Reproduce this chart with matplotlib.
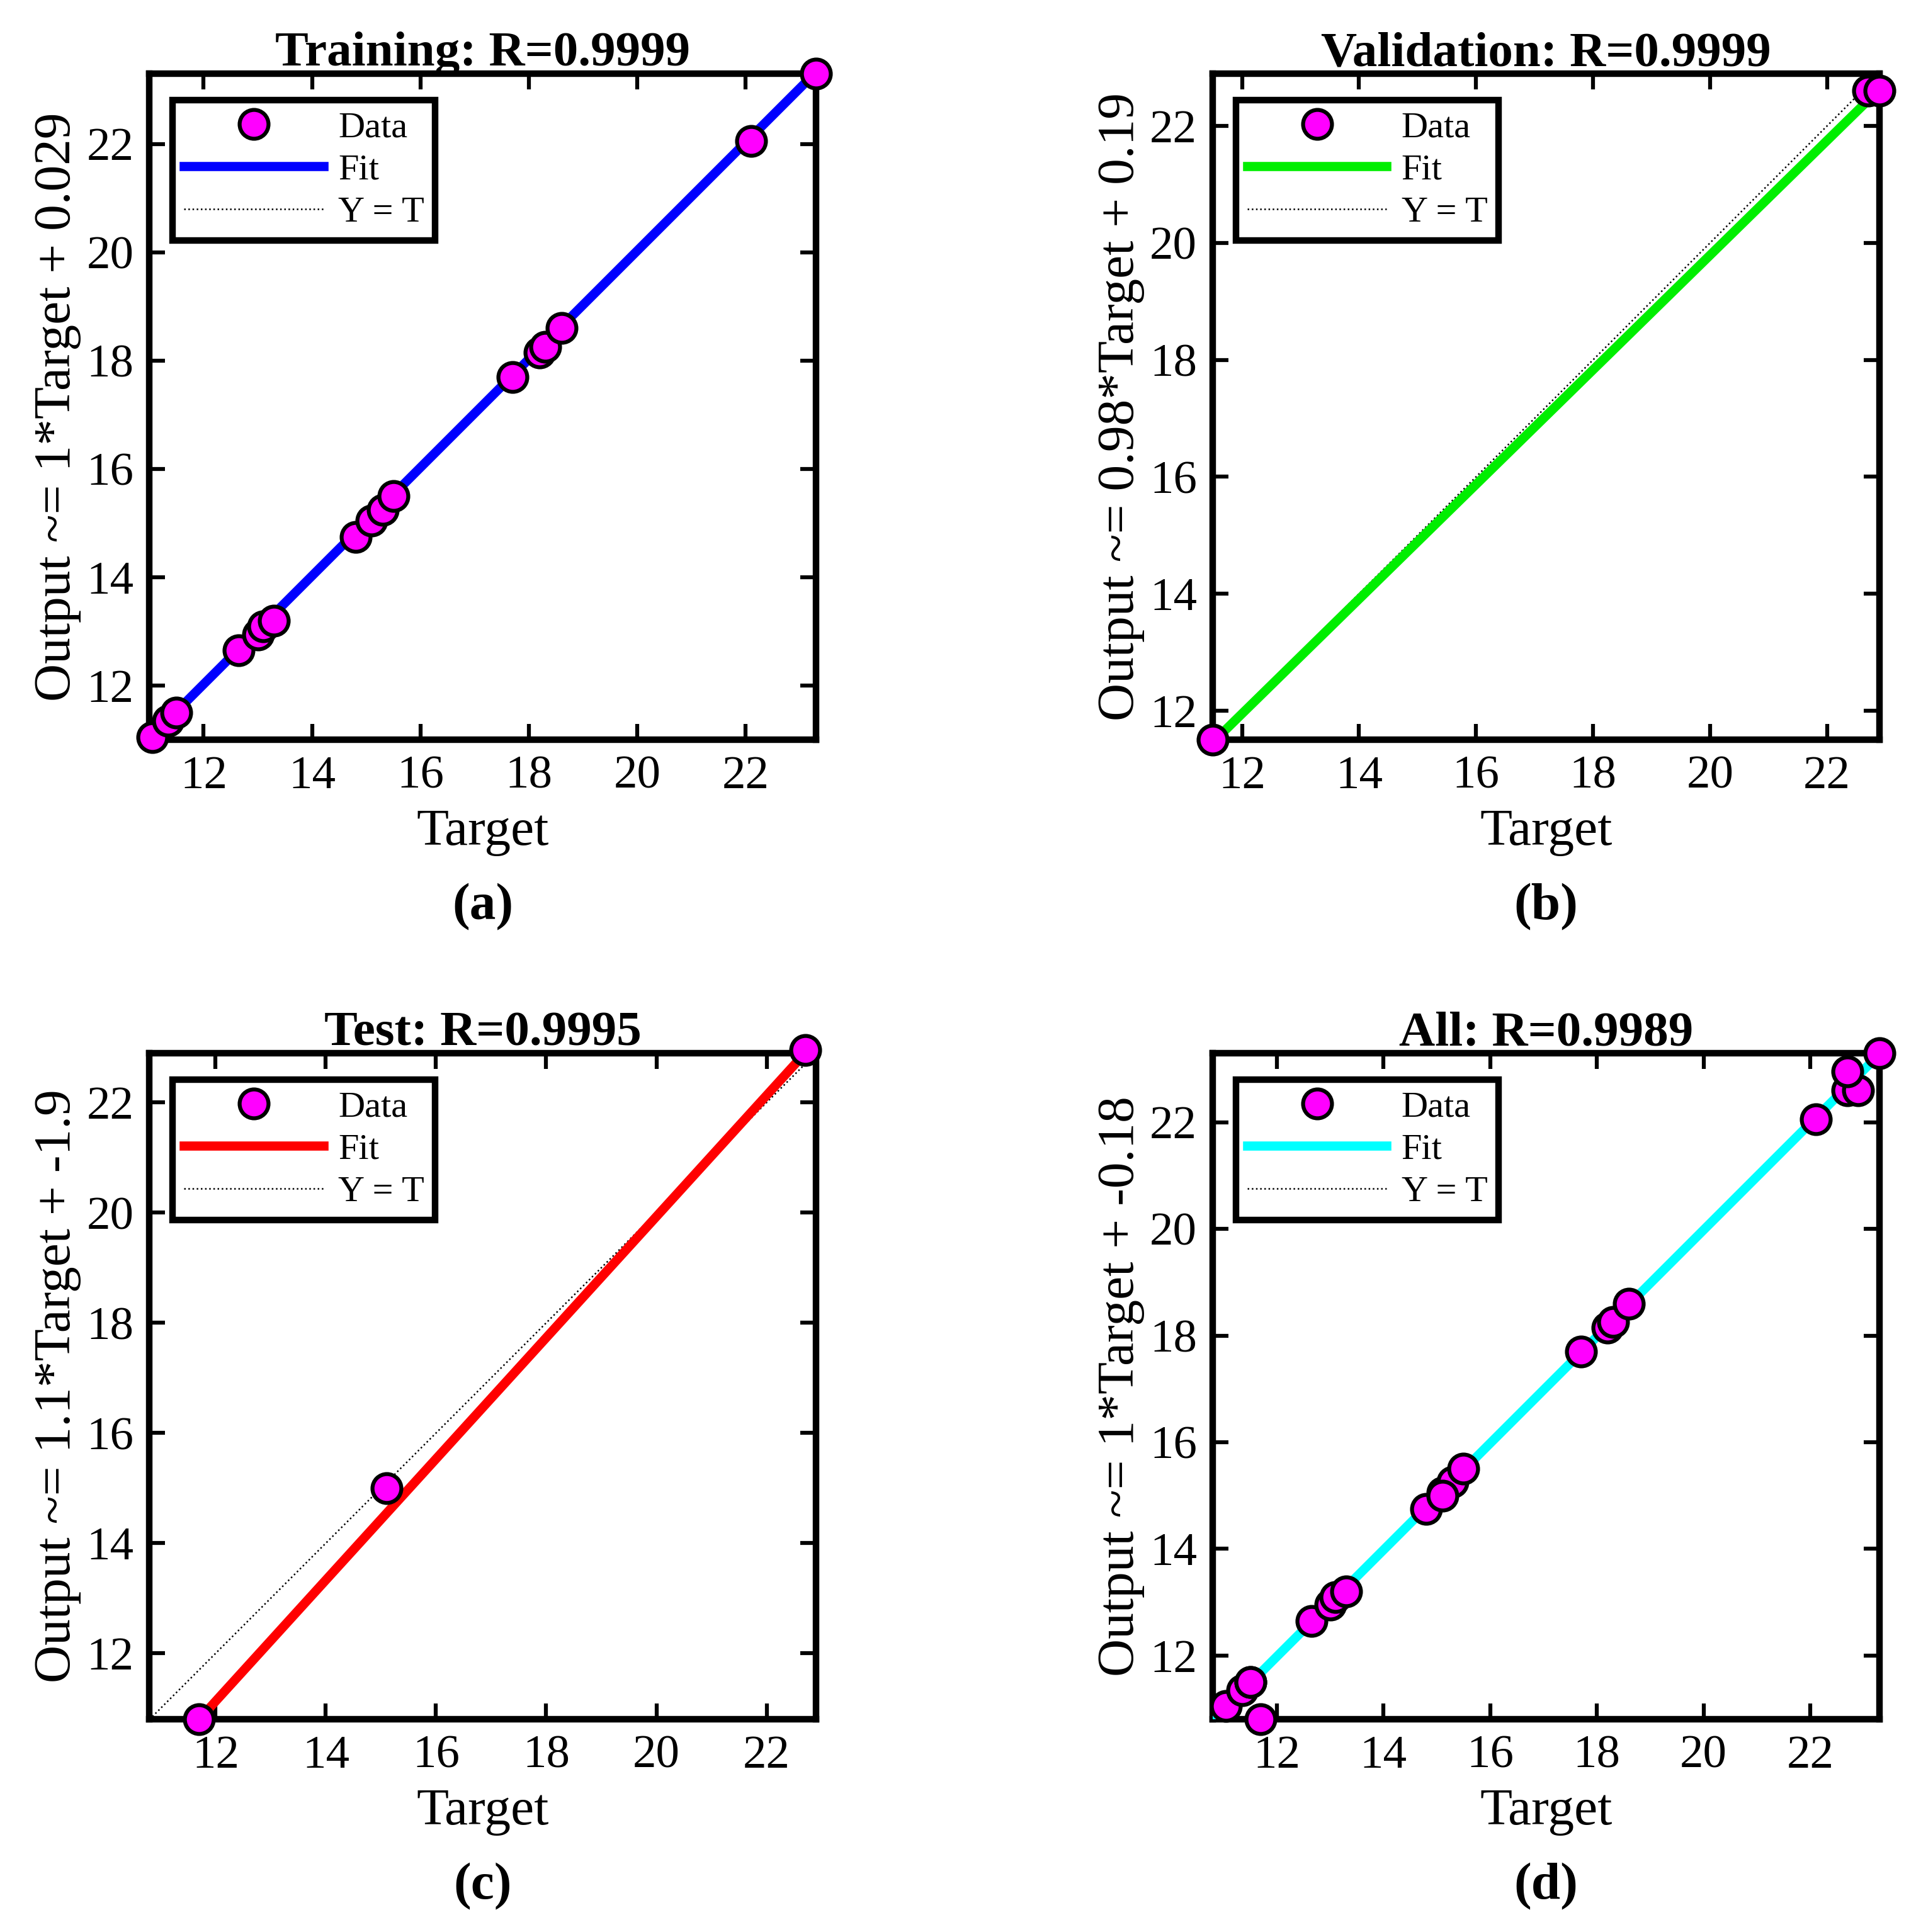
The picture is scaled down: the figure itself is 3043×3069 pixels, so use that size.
import numpy as np
import matplotlib
matplotlib.use("Agg")
import matplotlib.pyplot as plt

plt.rcParams['font.family'] = ['Liberation Serif', 'DejaVu Serif']

train_t = [11.05, 11.35, 11.5, 12.65, 13.0, 13.1, 13.3, 14.8, 15.1, 15.3, 15.5, 17.7, 18.2, 18.3, 18.6, 22.1, 23.3]
train_o = [11.05, 11.35, 11.5, 12.65, 12.95, 13.1, 13.2, 14.75, 15.05, 15.25, 15.5, 17.7, 18.15, 18.25, 18.6, 22.05, 23.3]
val_t = [11.5, 22.7, 22.9]
val_o = [11.5, 22.6, 22.6]
test_t = [11.7, 15.1, 22.7]
test_o = [10.8, 15.0, 22.95]

panels = [
    ("Training: R=0.9999", "Output ~= 1*Target + 0.029", train_t, train_o, (1.0, 0.029), 'blue', (11.0, 23.3), "(a)"),
    ("Validation: R=0.9999", "Output ~= 0.98*Target + 0.19", val_t, val_o, (0.98, 0.19), '#00ee00', (11.5, 22.9), "(b)"),
    ("Test: R=0.9995", "Output ~= 1.1*Target + -1.9", test_t, test_o, (1.1, -2.07), 'red', (10.8, 22.9), "(c)"),
    ("All: R=0.9989", "Output ~= 1*Target + -0.18", train_t + val_t + test_t, train_o + val_o + test_o, (1.0, -0.02), 'cyan', (10.8, 23.3), "(d)"),
]
pos = [(0.078, 0.617), (0.633, 0.617), (0.078, 0.110), (0.633, 0.110)]

fig = plt.figure(figsize=(3043/300, 3069/300), dpi=300)
for (title, ylab, t, o, (m, b), col, lim, lab), (l, bt) in zip(panels, pos):
    ax = fig.add_axes([l, bt, 0.348, 0.345])
    xs = np.array(lim)
    ax.plot(xs, xs, color='black', lw=0.6, ls=':', label='Y = T', zorder=2)
    ax.plot(xs, m*xs + b, color=col, lw=3.5, label='Fit', zorder=3)
    ax.plot(t, o, 'o', ms=11, mfc='magenta', mec='black', mew=1.5, label='Data', zorder=4, clip_on=False)
    ax.set_xlim(lim); ax.set_ylim(lim)
    ax.set_xticks([12, 14, 16, 18, 20, 22]); ax.set_yticks([12, 14, 16, 18, 20, 22])
    ax.tick_params(direction='in', top=True, right=True, labelsize=18, width=1.5, length=6, pad=6)
    for s in ax.spines.values():
        s.set_linewidth(2.5)
    ax.set_title(title, fontsize=19, fontweight='bold', pad=3)
    ax.set_xlabel("Target", fontsize=20, labelpad=4)
    ax.text(0.5, -0.215, lab, transform=ax.transAxes, ha='center', va='top', fontsize=20, fontweight='bold')
    ax.set_ylabel(ylab, fontsize=20, labelpad=2)
    h, lb = ax.get_legend_handles_labels()
    leg = ax.legend([h[2], h[1], h[0]], [lb[2], lb[1], lb[0]], loc='upper left', fontsize=14,
                    fancybox=False, edgecolor='black', framealpha=1, borderpad=0.3,
                    bbox_to_anchor=(0.035, 0.96), handlelength=3.8, handletextpad=0.4,
                    labelspacing=0.25, borderaxespad=0)
    leg.get_frame().set_linewidth(2.5)
fig.savefig("out.png", dpi=300)
